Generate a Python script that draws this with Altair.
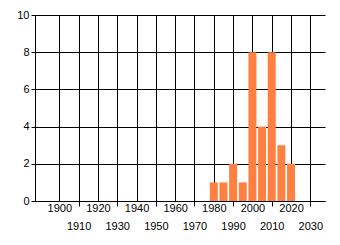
import altair as alt
import pandas as pd

years = [1980, 1985, 1990, 1995, 2000, 2005, 2010, 2015, 2020]
counts = [1, 1, 2, 1, 8, 4, 8, 3, 2]
x_ticks = [1900, 1910, 1920, 1930, 1940, 1950, 1960, 1970, 1980, 1990, 2000, 2010, 2020, 2030]
y_ticks = [0, 2, 4, 6, 8, 10]

df = pd.DataFrame({"year": years, "count": counts})

FONT = "Liberation Sans"

chart = (
    alt.Chart(df)
    .mark_bar(size=8, color="#FF8040")
    .encode(
        x=alt.X(
            "year:Q",
            scale=alt.Scale(domain=[1890, 2035], nice=False, zero=False),
            axis=alt.Axis(
                values=x_ticks,
                format="d",
                title=None,
                grid=True,
                gridColor="black",
                gridOpacity=1,
                gridWidth=1,
                domainColor="black",
                domainWidth=1,
                tickColor="black",
                tickWidth=1,
                tickSize={"condition": {"test": "datum.value % 20 == 10", "value": 5}, "value": 0},
                labelPadding={"condition": {"test": "datum.value % 20 == 10", "value": 14}, "value": 1},
                labelAngle=0,
                labelFont=FONT,
                labelFontSize=11,
                labelColor="black",
                labelOverlap=False,
                labelFlush=False,
            ),
        ),
        y=alt.Y(
            "count:Q",
            scale=alt.Scale(domain=[0, 10], nice=False),
            axis=alt.Axis(
                values=y_ticks,
                title=None,
                grid=True,
                gridColor="black",
                gridOpacity=1,
                gridWidth=1,
                domainColor="black",
                domainWidth=1,
                tickColor="black",
                tickSize=4,
                labelPadding=2,
                labelFont=FONT,
                labelFontSize=11,
                labelColor="black",
            ),
        ),
    )
    .properties(
        width=290,
        height=186,
        autosize=alt.AutoSizeParams(type="none"),
        padding={"left": 35, "top": 15, "right": 15, "bottom": 44},
        background="white",
    )
    .configure_view(stroke=None)
)

chart.save("out.html", embed_options={"renderer": "svg", "actions": False})
